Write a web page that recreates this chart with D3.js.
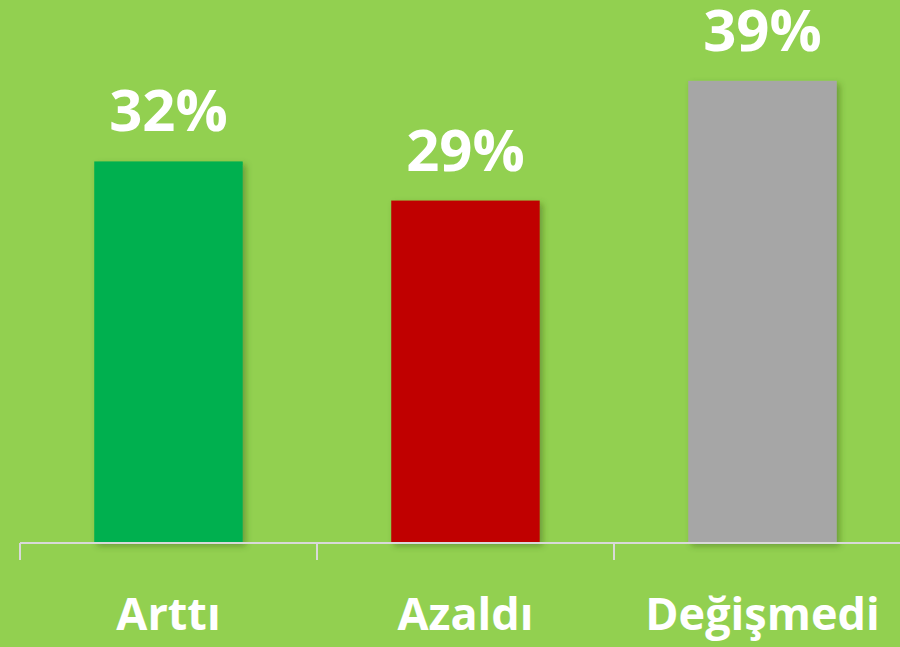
<!DOCTYPE html>
<html>
<head>
<meta charset="utf-8">
<script src="https://cdn.jsdelivr.net/npm/d3@7"></script>
<style>
  html, body { margin: 0; padding: 0; background: #92D050; }
  svg { display: block; }
  .axis text { display: none; }
</style>
</head>
<body>
<div class="chartWrapper"></div>
<script>
// data (bar heights, labels as printed)
var categories = ["Arttı", "Azaldı", "Değişmedi"];
var values = [32.2, 28.9, 39];
var valueLabels = ["32%", "29%", "39%"];
var barColors = ["#00B050", "#C00000", "#A6A6A6"];

var width = 900,
    height = 647,
    baseY = 543;

var svg = d3.select(".chartWrapper")
    .append("svg")
    .attr("width", width)
    .attr("height", height);

svg.append("rect")
    .attr("width", width)
    .attr("height", height)
    .attr("fill", "#92D050");

// soft shadow under bars
var defs = svg.append("defs");
var f = defs.append("filter")
    .attr("id", "shadow")
    .attr("x", "-10%").attr("y", "-10%")
    .attr("width", "130%").attr("height", "130%");
f.append("feDropShadow")
    .attr("dx", 3).attr("dy", 3)
    .attr("stdDeviation", 3)
    .attr("flood-color", "#3d5a1a")
    .attr("flood-opacity", 0.45);

var xScale = d3.scaleBand()
    .domain(categories)
    .range([20, 911])
    .paddingInner(0.5)
    .paddingOuter(0.25);

var yScale = d3.scaleLinear()
    .domain([0, 40])
    .range([baseY, baseY - 40 * 11.85]);

var step = xScale.step();

// bars
svg.selectAll(".bar")
    .data(values)
    .enter()
    .append("rect")
    .attr("class", "bar")
    .attr("x", function (d, i) { return xScale(categories[i]); })
    .attr("y", function (d) { return yScale(d); })
    .attr("width", xScale.bandwidth())
    .attr("height", function (d) { return baseY - yScale(d); })
    .attr("fill", function (d, i) { return barColors[i]; })
    .attr("filter", "url(#shadow)");

// axis line and tick marks at band edges
var xAxis = d3.axisBottom(xScale).tickSize(0).tickFormat("");
var gAxis = svg.append("g")
    .attr("class", "axis")
    .attr("transform", "translate(0," + baseY + ")")
    .call(xAxis);
gAxis.select(".domain")
    .attr("d", "M20,0H" + width)
    .attr("stroke", "#D9D9D9")
    .attr("stroke-width", 2);

var edges = categories.map(function (c) { return xScale(c) - step * 0.25; });
gAxis.selectAll(".edge")
    .data(edges)
    .enter()
    .append("line")
    .attr("class", "edge")
    .attr("x1", function (d) { return d; })
    .attr("x2", function (d) { return d; })
    .attr("y1", 0)
    .attr("y2", 17)
    .attr("stroke", "#D9D9D9")
    .attr("stroke-width", 2);

// value labels
svg.selectAll(".val")
    .data(values)
    .enter()
    .append("text")
    .attr("class", "val")
    .attr("x", function (d, i) { return xScale(categories[i]) + xScale.bandwidth() / 2; })
    .attr("y", function (d) { return yScale(d) - 30; })
    .attr("text-anchor", "middle")
    .attr("fill", "white")
    .style("font-family", "'Open Sans', 'Noto Sans', sans-serif")
    .style("font-weight", "bold")
    .style("font-size", "58px")
    .text(function (d, i) { return valueLabels[i]; });

// category labels
svg.selectAll(".cat")
    .data(categories)
    .enter()
    .append("text")
    .attr("class", "cat")
    .attr("x", function (d) { return xScale(d) + xScale.bandwidth() / 2; })
    .attr("y", 630)
    .attr("text-anchor", "middle")
    .attr("fill", "white")
    .style("font-family", "'Open Sans', 'Noto Sans', sans-serif")
    .style("font-weight", "bold")
    .style("font-size", "45px")
    .text(function (d) { return d; });
</script>
</body>
</html>
